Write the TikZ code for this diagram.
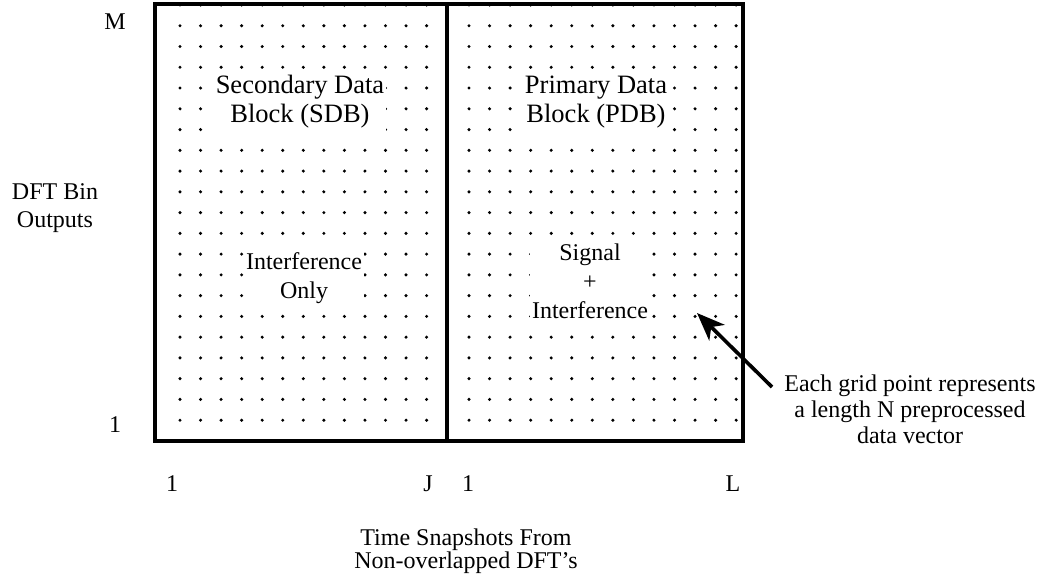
\documentclass[tikz,border=0pt]{standalone}
\usepackage{fontspec}
\setmainfont{Liberation Serif}
\usetikzlibrary{arrows.meta}

\begin{document}
\begin{tikzpicture}[x=0.5pt,y=-0.5pt]
  % Local definitions
  \def\rowstep{20.76}
  \def\colstep{20.55}

  % Styles
  \tikzstyle{block frame}=[line width=1.7pt]
  \tikzstyle{grid dot}=[fill=black]
  \tikzstyle{block title}=[align=center,fill=white,inner xsep=1pt,inner ysep=2pt,
    font=\fontsize{13.25}{14.5}\selectfont]
  \tikzstyle{block content}=[align=center,fill=white,inner xsep=1pt,inner ysep=2pt,
    font=\fontsize{12}{14.5}\selectfont]
  \tikzstyle{axis text}=[align=center,font=\fontsize{12}{14}\selectfont]
  \tikzstyle{pointer}=[line width=1.8pt,-{Stealth[length=14pt,width=11pt,inset=4pt]}]

  \useasboundingbox (0,0) rectangle (1040,578);

  % The graphic
  \foreach \k in {0,...,21} {
    \foreach \i in {0,...,12}
      \fill[grid dot] (180+\i*\colstep,5+\k*\rowstep) circle (0.85pt);
    \foreach \i in {0,...,13}
      \fill[grid dot] (469+\i*\colstep,5+\k*\rowstep) circle (0.85pt);
  }

  \draw[block frame] (155,4) rectangle (743,441);
  \draw[block frame] (447,4) -- (447,441);

  % Block names and contents
  \node[block title] (sdb) at (300,102) {Secondary Data\\Block (SDB)};
  \node[block title] (pdb) at (596,102) {Primary Data\\Block (PDB)};
  \node[block content] (sdbdata) at (304,278) {Interference\\Only};
  \node[block content] (pdbdata) at (590,281) {Signal\\+\\Interference};

  % Axes
  \node[axis text] (binmax) at (115,22) {M};
  \node[axis text] (binmin) at (115,425) {1};
  \node[axis text] (binname) at (55,208) {DFT Bin\\Outputs};

  \foreach \x/\xtext/\xname in {172/1/sfirst, 428/J/slast, 468/1/pfirst, 733/L/plast}
    \node[axis text] (\xname) at (\x,484) {\xtext};
  \node[axis text,font=\fontsize{12}{11.5}\selectfont] (timename) at (466,551)
    {Time Snapshots From\\Non-overlapped DFT's};

  % Note on the grid points
  \node[axis text,font=\fontsize{12}{13}\selectfont] (note) at (910,409)
    {Each grid point represents\\a length N preprocessed\\data vector};
  \coordinate (tail) at (772,387);
  \coordinate (tip) at (697,313);
  \draw[pointer] (tail) -- (tip);
\end{tikzpicture}
\end{document}
